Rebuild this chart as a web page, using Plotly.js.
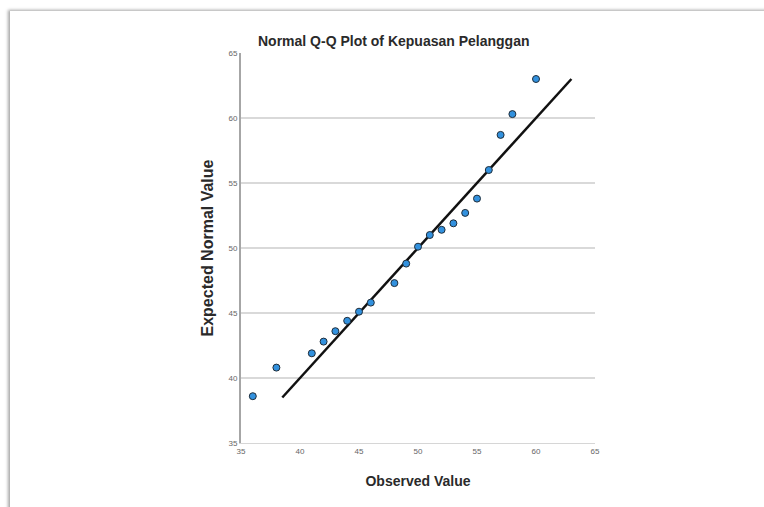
<!DOCTYPE html>
<html>
<head>
<meta charset="utf-8">
<script src="https://cdn.plot.ly/plotly-3.0.1.min.js"></script>
<style>
  html, body { margin: 0; padding: 0; background: #ffffff; }
  #frame { position: absolute; left: 10px; top: 11px; width: 770px; height: 510px;
           background: #fff; box-shadow: -2px -1px 3px rgba(0,0,0,0.35); }
  #chart { position: absolute; left: 0; top: 0; width: 764px; height: 507px; }
</style>
</head>
<body>
<div id="frame"></div>
<div id="chart"></div>
<script>
const observed = [36, 38, 41, 42, 43, 44, 45, 46, 48, 49, 50, 51, 52, 53, 54, 55, 56, 57, 58, 60];
const expected = [38.6, 40.8, 41.9, 42.8, 43.6, 44.4, 45.1, 45.8, 47.3, 48.8, 50.1, 51.0, 51.4, 51.9, 52.7, 53.8, 56.0, 58.7, 60.3, 63.0];
const lineX = [38.5, 63];
const lineY = [38.5, 63];
const tickVals = [35, 40, 45, 50, 55, 60, 65];
const tickText = ['35', '40', '45', '50', '55', '60', '65'];

const traces = [
  { x: lineX, y: lineY, mode: 'lines', type: 'scatter',
    line: { color: '#111111', width: 2.5 }, hoverinfo: 'skip' },
  { x: observed, y: expected, mode: 'markers', type: 'scatter',
    marker: { color: '#3291de', size: 7, line: { color: '#1f2d3a', width: 1 } } }
];

const layout = {
  width: 764, height: 507,
  margin: { l: 241, r: 169, t: 53, b: 64 },
  paper_bgcolor: 'rgba(0,0,0,0)',
  plot_bgcolor: 'rgba(0,0,0,0)',
  showlegend: false,
  font: { family: 'Liberation Sans, Arial, sans-serif', color: '#222' },
  xaxis: {
    range: [35, 65], tickvals: tickVals, ticktext: tickText,
    showgrid: false, zeroline: false,
    showline: true, linecolor: '#d6d6d6', linewidth: 1,
    ticks: '', tickfont: { size: 8, color: '#666' },
    title: { text: 'Observed Value', font: { size: 14, color: '#2a2a2a', weight: 'bold' }, standoff: 21 }
  },
  yaxis: {
    range: [35, 65], tickvals: tickVals, ticktext: tickText,
    showgrid: true, gridcolor: '#d9d9d9', gridwidth: 1.5, zeroline: false,
    showline: true, linecolor: '#a6a6a6', linewidth: 2,
    ticks: '', tickfont: { size: 8, color: '#666' },
    title: { text: 'Expected Normal Value', font: { size: 16, color: '#2a2a2a', weight: 'bold' }, standoff: 11 }
  },
  annotations: [
    { text: 'Normal Q-Q Plot of Kepuasan Pelanggan', xref: 'paper', yref: 'paper',
      x: (393 - 241) / 354, y: 1, yshift: 2, xanchor: 'center', yanchor: 'bottom',
      showarrow: false, font: { size: 14, color: '#2a2a2a', weight: 'bold' } }
  ]
};

Plotly.newPlot('chart', traces, layout, { displayModeBar: false, staticPlot: true });
</script>
</body>
</html>
